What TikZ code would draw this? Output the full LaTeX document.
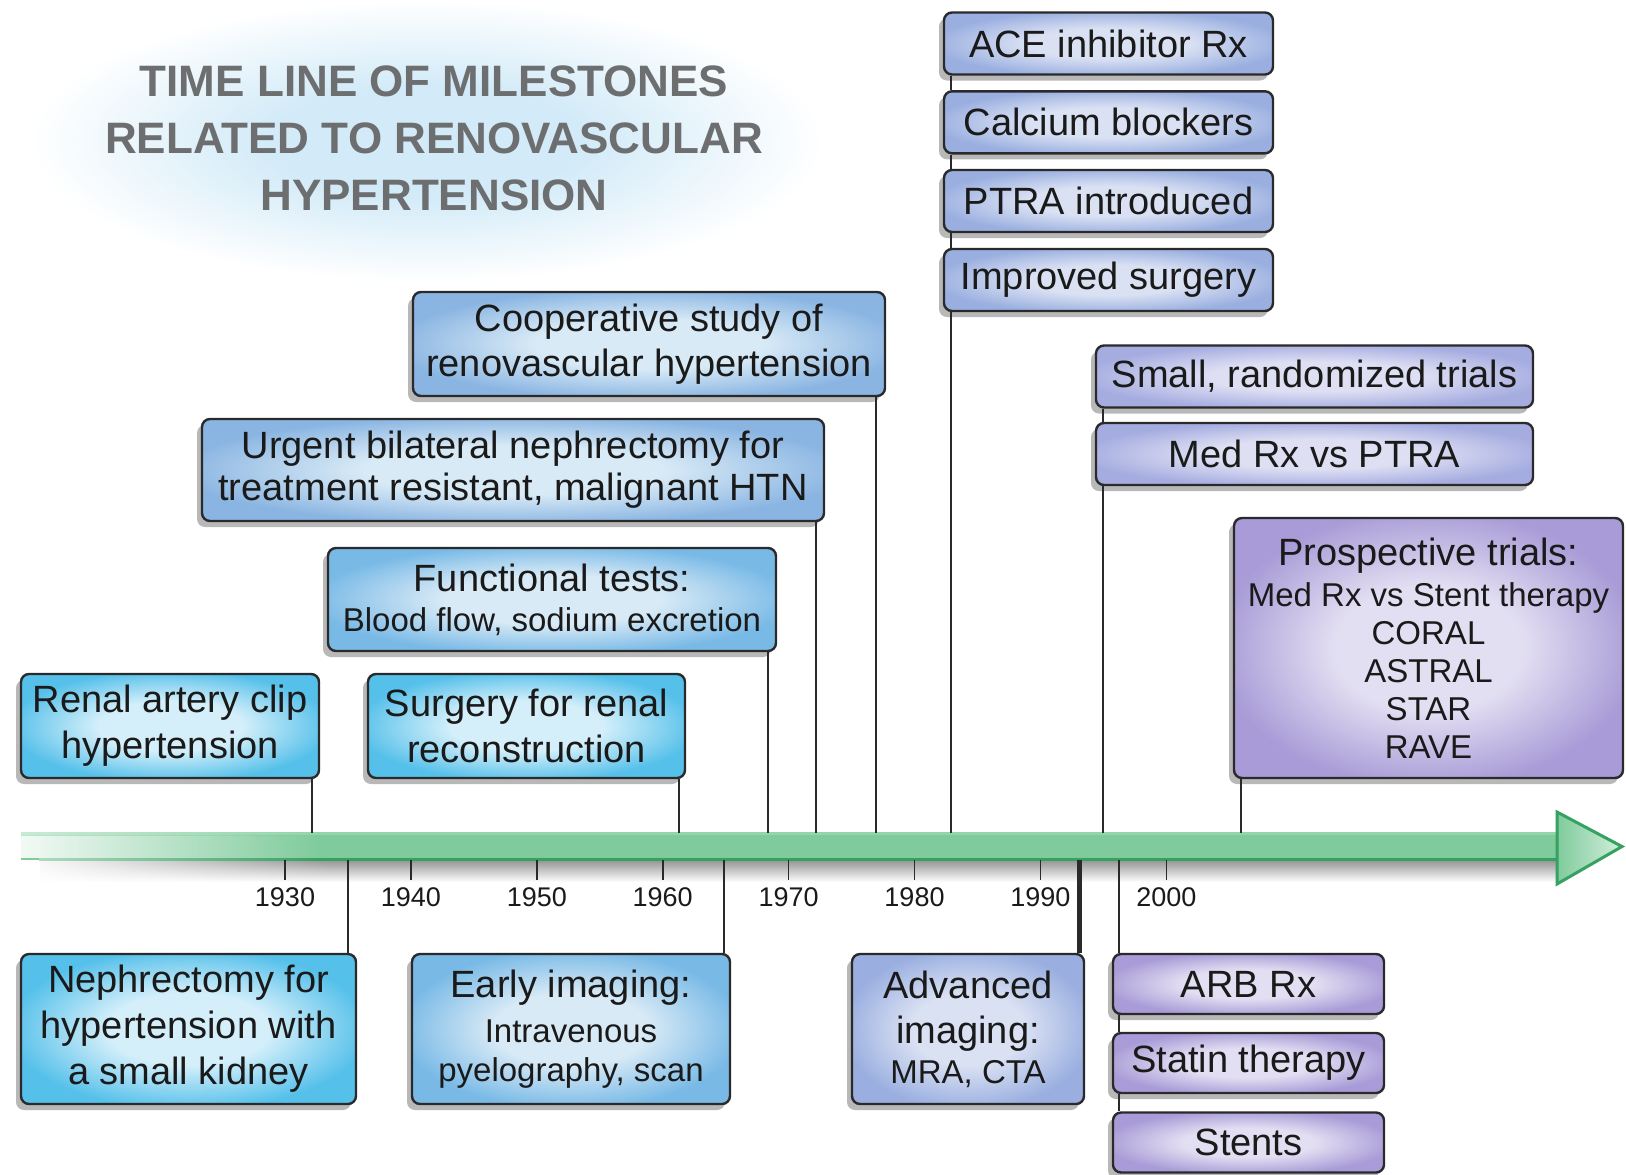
\documentclass[tikz,border=0pt]{standalone}
\usepackage{fontspec}
\setmainfont{Liberation Sans}
\usetikzlibrary{shadows,fadings}
\definecolor{haloc}{HTML}{D3EBF8}
\definecolor{titlec}{HTML}{6D6E70}
\definecolor{boxline}{HTML}{2A2A2A}
\definecolor{txtc}{HTML}{1A1A1A}
\definecolor{cyanIn}{HTML}{D4EFFA}
\definecolor{cyanOut}{HTML}{55C0EA}
\definecolor{blueIn}{HTML}{D8EAF6}
\definecolor{blueOut}{HTML}{78B9E6}
\definecolor{blueTwoOut}{HTML}{8AB5E2}
\definecolor{periIn}{HTML}{DAE1F3}
\definecolor{periOut}{HTML}{9AAFE0}
\definecolor{lavIn}{HTML}{DEDFF3}
\definecolor{lavOut}{HTML}{A5ACE0}
\definecolor{purIn}{HTML}{E3DFF2}
\definecolor{purOut}{HTML}{A89BD7}
\definecolor{bandgreen}{HTML}{7FCB9C}
\definecolor{bandtopc}{HTML}{93D5AA}
\definecolor{banddark}{HTML}{36A160}
\definecolor{tiplight}{HTML}{D2EFDC}

\pgfdeclareradialshading{halo}{\pgfpoint{0bp}{0bp}}{color(0bp)=(haloc); color(10bp)=(haloc); color(25bp)=(white); color(50bp)=(white)}
\colorlet{boxin}{white}\colorlet{boxout}{gray}
\pgfdeclareradialshading[boxin,boxout]{boxglow}{\pgfpoint{0bp}{0bp}}{color(0bp)=(boxin); color(12bp)=(boxin); color(27bp)=(boxout); color(50bp)=(boxout)}
\tikzfading[name=leftfade, left color=transparent!0, right color=transparent!100]

\newcommand\bigtxt{\fontsize{19}{23}\selectfont}
\newcommand\smtxt{\fontsize{16.5}{19.5}\selectfont}

\tikzset{
  mbox/.style 2 args={draw=boxline, line width=1.2pt, rounded corners=4pt,
    /utils/exec={\colorlet{boxin}{#1}\colorlet{boxout}{#2}}, shading=boxglow,
    drop shadow={shadow xshift=-2.5pt, shadow yshift=-3pt, fill=black, opacity=0.28},
    align=center, inner sep=0pt, text=txtc, font=\bigtxt},
  cyanbox/.style={mbox={cyanIn}{cyanOut}},
  bluebox/.style={mbox={blueIn}{blueOut}},
  bluetwobox/.style={mbox={blueIn}{blueTwoOut}},
  peribox/.style={mbox={periIn}{periOut}},
  lavbox/.style={mbox={lavIn}{lavOut}},
  purbox/.style={mbox={purIn}{purOut}},
  conn/.style={draw=boxline, line width=1pt},
  thickconn/.style={draw=boxline, line width=2.5pt},
  ticklab/.style={font=\fontsize{13.5}{16}\selectfont, text=txtc, inner sep=0pt},
  tickline/.style={draw=boxline, line width=0.8pt},
  titletext/.style={font=\fontsize{22}{28.5}\selectfont\bfseries, text=titlec, align=center, inner sep=0pt}
}

\begin{document}
\begin{tikzpicture}[x=0.5pt, y=-0.5pt]
\useasboundingbox (0,0) rectangle (1626,1174);

% title halo
\shade[shading=halo] (30,0) rectangle (824,282);
\node[titletext] (title) at (434,138) {TIME LINE OF MILESTONES\\RELATED TO RENOVASCULAR\\HYPERTENSION};

% band shadow
\shade[top color=black!40, bottom color=white] (40,861) rectangle (1556,882);
\fill[white, path fading=leftfade] (20,861) rectangle (330,883);
% band
\fill[bandgreen] (21,833) rectangle (1558,860);
\fill[bandtopc] (21,831.5) rectangle (1558,835);
\fill[banddark] (39,857.5) rectangle (1558,861);
\fill[white, opacity=0.9, path fading=leftfade] (21,836) rectangle (320,857.5);
\fill[white, opacity=0.5, path fading=leftfade] (21,831.5) rectangle (320,836);
\fill[white, opacity=0.6, path fading=leftfade] (39,857.5) rectangle (320,861);
\shadedraw[draw=banddark, line width=1.5pt, left color=bandgreen, right color=tiplight] (1557,812) -- (1622,846.5) -- (1557,884) -- cycle;
\coordinate (bandtop) at (0,833);
\coordinate (bandbot) at (0,860);

% ticks
\foreach \yr/\xx in {1930/285,1940/410.9,1950/536.8,1960/662.7,1970/788.6,1980/914.5,1990/1040.4,2000/1166.3}{
  \draw[tickline] (\xx,860) -- (\xx,880);
  \node[ticklab] (y\yr) at (\xx,897) {\yr};
}

% boxes above
\node[cyanbox, minimum width=149pt, minimum height=52pt] (clip) at (170,726) {Renal artery clip\\hypertension};
\node[cyanbox, minimum width=158.5pt, minimum height=52pt] (surg) at (526.5,726) {Surgery for renal\\reconstruction};
\node[bluebox, minimum width=224pt, minimum height=51.5pt] (func) at (552,599.5) {Functional tests:\\[-3pt]{\smtxt Blood flow, sodium excretion}};
\node[bluetwobox, minimum width=311pt, minimum height=51pt] (urg) at (513,470) {Urgent bilateral nephrectomy for\\[-2pt]treatment resistant, malignant HTN};
\node[bluetwobox, minimum width=236pt, minimum height=52pt] (coop) at (649,344) {Cooperative study of\\[-0.5pt]renovascular hypertension};

\node[peribox, minimum width=164.5pt, minimum height=31pt] (ace) at (1108.5,43.5) {ACE inhibitor Rx};
\node[peribox, minimum width=164.5pt, minimum height=31pt] (calc) at (1108.5,122.3) {Calcium blockers};
\node[peribox, minimum width=164.5pt, minimum height=31pt] (ptra) at (1108.5,201) {PTRA introduced};
\node[peribox, minimum width=164.5pt, minimum height=31pt] (impr) at (1108.5,280) {Improved surgery};

\node[lavbox, minimum width=218.5pt, minimum height=31pt] (small) at (1314.5,376.5) {Small, randomized trials};
\node[lavbox, minimum width=218.5pt, minimum height=31pt] (medrx) at (1314.5,454) {Med Rx vs PTRA};

\node[purbox, minimum width=194.5pt, minimum height=130pt] (prosp) at (1428.5,648) {Prospective trials:\\[-2.5pt]{\smtxt Med Rx vs Stent therapy}\\[-4pt]{\smtxt CORAL}\\[-4pt]{\smtxt ASTRAL}\\[-4pt]{\smtxt STAR}\\[-4pt]{\smtxt RAVE}};

% boxes below
\node[cyanbox, minimum width=167.5pt, minimum height=75pt] (neph) at (188.5,1029) {Nephrectomy for\\hypertension with\\a small kidney};
\node[bluebox, minimum width=159pt, minimum height=75pt] (early) at (571,1029) {Early imaging:\\[-0.5pt]{\smtxt Intravenous}\\[-3.5pt]{\smtxt pyelography, scan}};
\node[peribox, minimum width=116pt, minimum height=75pt] (adv) at (968,1029) {Advanced\\[-0.5pt]imaging:\\[-3pt]{\smtxt MRA, CTA}};

\node[purbox, minimum width=135.5pt, minimum height=30pt] (arb) at (1248.5,984) {ARB Rx};
\node[purbox, minimum width=135.5pt, minimum height=30pt] (statin) at (1248.5,1063) {Statin therapy};
\node[purbox, minimum width=135.5pt, minimum height=30pt] (stents) at (1248.5,1142.5) {Stents};

% connectors above
\coordinate (cclip) at ([xshift=-4pt]clip.south east);
\draw[conn] (cclip) -- (cclip |- bandtop);
\coordinate (csurg) at ([xshift=-3.5pt]surg.south east);
\draw[conn] (csurg) -- (csurg |- bandtop);
\coordinate (cfunc) at ([xshift=-4.5pt]func.south east);
\draw[conn] (cfunc) -- (cfunc |- bandtop);
\coordinate (curg) at ([xshift=-4.5pt]urg.south east);
\draw[conn] (curg) -- (curg |- bandtop);
\coordinate (ccoop) at ([xshift=-5pt]coop.south east);
\draw[conn] (ccoop) -- (ccoop |- bandtop);
\draw[conn] ([xshift=4pt]ace.south west) -- ([xshift=4pt]calc.north west);
\draw[conn] ([xshift=4pt]calc.south west) -- ([xshift=4pt]ptra.north west);
\draw[conn] ([xshift=4pt]ptra.south west) -- ([xshift=4pt]impr.north west);
\coordinate (cimpr) at ([xshift=4pt]impr.south west);
\draw[conn] (cimpr) -- (cimpr |- bandtop);
\draw[conn] ([xshift=4pt]small.south west) -- ([xshift=4pt]medrx.north west);
\coordinate (cmedrx) at ([xshift=4pt]medrx.south west);
\draw[conn] (cmedrx) -- (cmedrx |- bandtop);
\coordinate (cprosp) at ([xshift=4pt]prosp.south west);
\draw[conn] (cprosp) -- (cprosp |- bandtop);

% connectors below
\coordinate (cneph) at ([xshift=-4.5pt]neph.north east);
\draw[conn] (cneph |- bandbot) -- (cneph);
\coordinate (cearly) at ([xshift=-3.5pt]early.north east);
\draw[conn] (cearly |- bandbot) -- (cearly);
\coordinate (cadv) at ([xshift=-3pt]adv.north east);
\draw[thickconn] (cadv |- bandbot) -- (cadv);
\coordinate (carb) at ([xshift=3.5pt]arb.north west);
\draw[conn] (carb |- bandbot) -- (carb);
\draw[conn] ([xshift=3.5pt]arb.south west) -- ([xshift=3.5pt]statin.north west);
\draw[conn] ([xshift=3.5pt]statin.south west) -- ([xshift=3.5pt]stents.north west);
\end{tikzpicture}
\end{document}
